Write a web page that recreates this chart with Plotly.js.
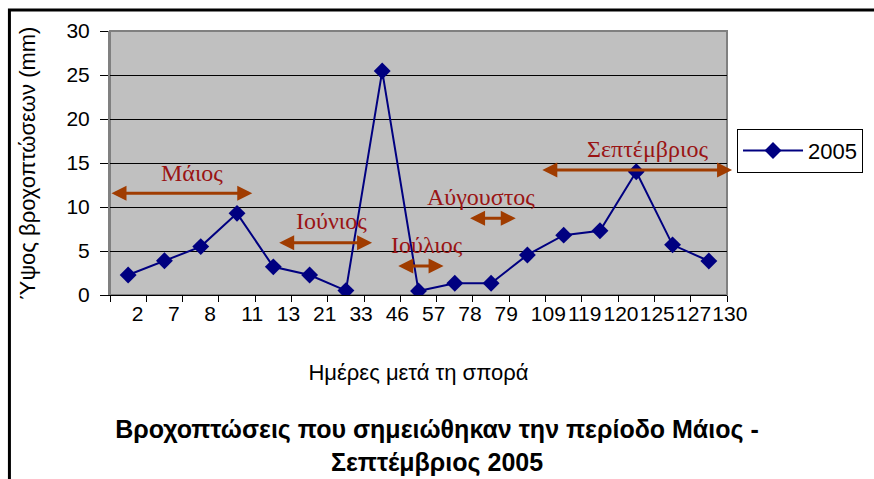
<!DOCTYPE html>
<html>
<head>
<meta charset="utf-8">
<script src="https://cdn.plot.ly/plotly-3.0.1.min.js"></script>
<style>html,body{margin:0;padding:0;background:#fff;}#chart{width:874px;height:479px;}</style>
</head>
<body>
<div id="chart"></div>
<script>
const days = ['2','7','8','11','13','21','33','46','57','78','79','109','119','120','125','127','130'];
const rain2005 = [2.27, 3.9, 5.5, 9.28, 3.2, 2.27, 0.5, 25.45, 0.45, 1.33, 1.33, 4.55, 6.8, 7.3, 14.0, 5.7, 3.86];
const seriesName = '2005';

// month periods: label, arrow start/end (category index), arrow level (mm), label position
const months = ['Μάιος', 'Ιούνιος', 'Ιούλιος', 'Αύγουστος', 'Σεπτέμβριος'];
const monthStart = [-0.5, 4.12, 7.40, 9.38, 11.37];
const monthEnd = [3.42, 6.72, 8.69, 10.68, 16.64];
const monthLevel = [11.56, 5.95, 3.30, 8.71, 14.2];
const labelX = [1.75, 5.6, 8.24, 9.72, 14.31];
const labelY = [13.86, 8.4, 5.68, 11.14, 16.6];

// left-align the tick labels by padding them to three digit widths
const tickText = days.map(d => d + '\u00a0\u00a0'.repeat(3 - d.length));

const annotations = [];
months.forEach((m, i) => {
  annotations.push({
    xref: 'x', yref: 'y', axref: 'x', ayref: 'y',
    x: monthEnd[i], y: monthLevel[i], ax: monthStart[i], ay: monthLevel[i],
    text: '', showarrow: true, arrowside: 'end+start',
    arrowhead: 2, startarrowhead: 2, arrowsize: 1.0, startarrowsize: 1.0,
    arrowwidth: 3, arrowcolor: '#A03C00', standoff: 0, startstandoff: 0
  });
  annotations.push({
    xref: 'x', yref: 'y', x: labelX[i], y: labelY[i], text: m, showarrow: false,
    font: {family: 'Liberation Serif, Times New Roman, serif', size: 24, color: '#9A1414'}
  });
});

const data = [{
  x: days, y: rain2005, name: seriesName, type: 'scatter', mode: 'lines+markers',
  line: {color: '#000080', width: 2},
  marker: {symbol: 'diamond', size: 13, color: '#000080'}
}];

const layout = {
  width: 874, height: 479,
  margin: {l: 110, r: 146, t: 31, b: 184},
  paper_bgcolor: '#ffffff', plot_bgcolor: '#C0C0C0',
  font: {family: 'Liberation Sans, Arial, sans-serif', color: '#000'},
  showlegend: true,
  legend: {x: 1.0146, y: 0.63, xanchor: 'left', yanchor: 'top', bgcolor: '#fff',
    bordercolor: '#000', borderwidth: 1, font: {size: 22}, itemwidth: 60},
  title: {text: '<b>Βροχοπτώσεις που σημειώθηκαν την περίοδο Μάιος -<br>Σεπτέμβριος 2005</b>',
    font: {size: 25}, x: 0.5, xref: 'container', y: 1 - 438/479, yref: 'container', yanchor: 'top'},
  xaxis: {
    type: 'category', range: [-0.5, 16.5], tickson: 'boundaries',
    tickmode: 'array', tickvals: days, ticktext: tickText, tickangle: 0,
    ticks: 'outside', ticklen: 6, tickcolor: '#000', showgrid: false,
    showline: true, linecolor: '#000', linewidth: 1,
    tickfont: {size: 21}, ticklabelshift: 21,
    title: {text: 'Ημέρες μετά τη σπορά', font: {size: 22}, standoff: 40}
  },
  yaxis: {
    range: [0, 30], dtick: 5, ticks: 'outside', ticklen: 8, tickcolor: '#000',
    ticklabelstandoff: 6,
    showgrid: true, gridcolor: '#000', gridwidth: 1, zeroline: false,
    showline: true, linecolor: '#808080', linewidth: 2,
    tickfont: {size: 21},
    title: {text: 'Ύψος βροχοπτώσεων (mm)', font: {size: 22}, standoff: 25}
  },
  shapes: [
    {type: 'rect', xref: 'paper', yref: 'paper', x0: 0, x1: 1, y0: 0, y1: 1,
      line: {color: '#808080', width: 2}, layer: 'below'},
    {type: 'rect', xref: 'paper', yref: 'paper', x0: -0.163, x1: 1.3, y0: -1, y1: 1.0795,
      line: {color: '#000', width: 3}}
  ],
  annotations: annotations
};

Plotly.newPlot('chart', data, layout, {displayModeBar: false, staticPlot: true});
</script>
</body>
</html>
